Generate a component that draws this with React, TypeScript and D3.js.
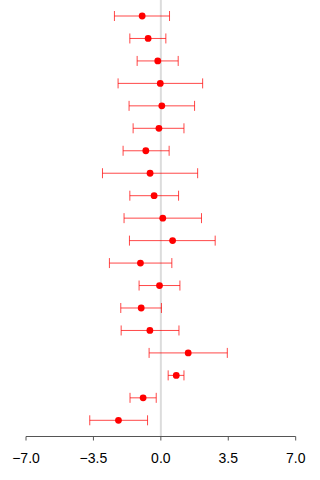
import React from "react";
import * as d3 from "d3";

// Point estimates with lower / upper interval bounds, top row first
const estimates = [-0.97, -0.66, -0.16, -0.03, 0.05, -0.1, -0.78, -0.56, -0.35, 0.1, 0.61, -1.06, -0.07, -1.02, -0.57, 1.42, 0.8, -0.92, -2.2];
const lowers = [-2.41, -1.61, -1.23, -2.22, -1.65, -1.44, -1.96, -3.03, -1.61, -1.91, -1.63, -2.67, -1.13, -2.08, -2.06, -0.61, 0.38, -1.6, -3.69];
const uppers = [0.45, 0.26, 0.9, 2.17, 1.75, 1.2, 0.43, 1.91, 0.92, 2.11, 2.82, 0.57, 0.99, 0.03, 0.94, 3.45, 1.2, -0.24, -0.69];
const tickValues = [-7, -3.5, 0, 3.5, 7];

const W = 320;
const H = 480;

export default function App() {
  const x = d3.scaleLinear().domain([-7, 7]).range([26, 295.7]);
  const rows = d3.range(estimates.length);
  const y = d3.scalePoint<number>().domain(rows).range([16, 420.3]);
  const axisY = 436.5;
  const capH = 5;

  return (
    <svg
      width={W}
      height={H}
      style={{ position: "absolute", left: 0, top: 0 }}
      fontFamily="'Liberation Sans', Arial, sans-serif"
    >
      <rect width={W} height={H} fill="#fff" />
      {/* reference line at zero */}
      <line x1={x(0)} x2={x(0)} y1={0} y2={axisY} stroke="#dcdcdc" strokeWidth={2} />
      {rows.map((i) => {
        const cy = y(i)!;
        const x0 = x(lowers[i]);
        const x1 = x(uppers[i]);
        return (
          <g key={i}>
            <g stroke="rgba(255,0,0,0.72)" strokeWidth={1}>
              <line x1={x0} x2={x1} y1={cy} y2={cy} />
              <line x1={x0} x2={x0} y1={cy - capH} y2={cy + capH} />
              <line x1={x1} x2={x1} y1={cy - capH} y2={cy + capH} />
            </g>
            <circle cx={x(estimates[i])} cy={cy} r={3.4} fill="#ff0000" />
          </g>
        );
      })}
      {/* x axis */}
      <line x1={x(-7)} x2={x(7)} y1={axisY} y2={axisY} stroke="#555" strokeWidth={1} />
      {tickValues.map((t) => (
        <g key={t}>
          <line x1={x(t)} x2={x(t)} y1={axisY} y2={axisY + 4} stroke="#555" strokeWidth={1} />
          <text x={x(t)} y={462.5} textAnchor="middle" fontSize={14} fill="#000">
            {d3.format(".1f")(t)}
          </text>
        </g>
      ))}
    </svg>
  );
}
